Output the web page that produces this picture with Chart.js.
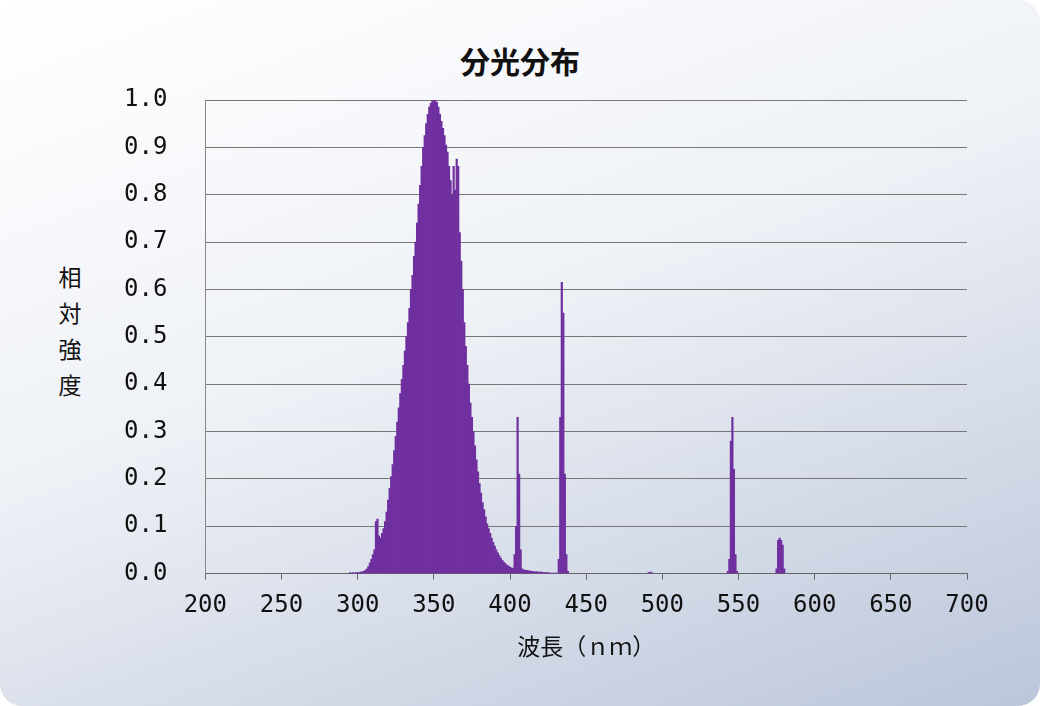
<!DOCTYPE html>
<html><head><meta charset="utf-8">
<script src="https://cdn.jsdelivr.net/npm/chart.js@4/dist/chart.umd.min.js"></script>
<style>
html,body{margin:0;padding:0;background:#fff;}
#card{position:relative;width:1040px;height:706px;border-radius:22px;overflow:hidden;
 background:linear-gradient(160deg,#ffffff 0%,#eef1f6 45%,#bcc6da 100%);font-family:"Noto Sans CJK JP",sans-serif;}
#title{position:absolute;left:0;width:1040px;top:38px;text-align:center;font-size:30px;font-weight:bold;color:#111;}
#ylab{position:absolute;left:55px;top:258px;width:30px;font-size:23px;line-height:36px;text-align:center;color:#111;}
canvas{position:absolute;left:0;top:0;}
</style></head><body>
<div id="card"><div id="title">分光分布</div><div id="ylab">相<br>対<br>強<br>度</div>
<canvas id="chart" width="1040" height="706"></canvas></div>
<script>
// spectrum segments: start wavelength (nm) and 1 nm intensity values
const uvStart = 295;
const uvValues = [0.002,0.001,0.002,0.001,0.002,
 0.002,0.002,0.003,0.004,0.005,0.007,0.01,0.015,0.022,0.03,
 0.04,0.05,0.11,0.115,0.08,0.075,0.085,0.095,0.11,0.13,
 0.155,0.18,0.205,0.23,0.26,0.29,0.32,0.35,0.38,0.41,
 0.44,0.47,0.5,0.53,0.56,0.6,0.63,0.67,0.7,0.74,
 0.78,0.82,0.86,0.9,0.925,0.95,0.97,0.985,0.993,0.998,
 1.0,1.0,0.995,0.985,0.97,0.955,0.94,0.925,0.905,0.89,
 0.86,0.83,0.80,0.86,0.81,0.875,0.86,0.72,0.66,0.6,
 0.53,0.48,0.44,0.4,0.36,0.33,0.3,0.27,0.24,0.215,
 0.19,0.17,0.15,0.135,0.12,0.105,0.095,0.085,0.075,0.066,
 0.058,0.05,0.044,0.038,0.033,0.028,0.024,0.021,0.018,0.016,
 0.014,0.012,0.011,0.04,0.1,0.33,0.21,0.05,0.01,0.008,
 0.007,0.007,0.006,0.006,0.005,0.005,0.004,0.004,0.004,0.003,
 0.003,0.003,0.002,0.002,0.002,0.002,0.001,0.001,0.001,0.001,
 0.001,0.001,0.03,0.33,0.615,0.55,0.21,0.04,0.005];
const blueStart = 491;
const blueValues = [0.002,0.003,0.002];
const greenStart = 543;
const greenValues = [0.005,0.03,0.28,0.33,0.22,0.04,0.005];
const yellowStart = 575;
const yellowValues = [0.01,0.07,0.075,0.07,0.06,0.01];
const xTicks = [200,250,300,350,400,450,500,550,600,650,700];
const yTicks = [0,0.1,0.2,0.3,0.4,0.5,0.6,0.7,0.8,0.9,1.0];

const points = [];
[[uvStart,uvValues],[blueStart,blueValues],[greenStart,greenValues],[yellowStart,yellowValues]]
 .forEach(([s,vals]) => vals.forEach((v,i) => points.push({x:s+i,y:v})));

const tickFont = {family:'"DejaVu Sans Mono"',size:24};

new Chart(document.getElementById('chart'), {
  type:'bar',
  data:{datasets:[{data:points,backgroundColor:'#6f2f9f',barPercentage:1,categoryPercentage:1,borderWidth:0}]},
  options:{
    responsive:false,animation:false,
    layout:{padding:{left:86,right:73,top:100,bottom:42}},
    plugins:{legend:{display:false},tooltip:{enabled:false}},
    scales:{
      x:{type:'linear',min:200,max:700,offset:false,
        afterBuildTicks:a=>{a.ticks=xTicks.map(v=>({value:v}));},
        grid:{drawOnChartArea:false,offset:false,color:'#666',tickLength:6},
        border:{color:'#666'},
        ticks:{color:'#111',font:tickFont,padding:12,maxRotation:0},
        title:{display:true,text:'波長（ｎｍ）',color:'#111',font:{family:'"Noto Sans CJK JP"',size:23},padding:{top:0}}},
      y:{min:0,max:1,
        afterBuildTicks:a=>{a.ticks=yTicks.map(v=>({value:v}));},
        grid:{color:'#777',drawTicks:false},
        border:{color:'#888'},
        ticks:{color:'#111',font:tickFont,padding:38,callback:v=>v.toFixed(1)}}
    }
  }
});
</script></body></html>
